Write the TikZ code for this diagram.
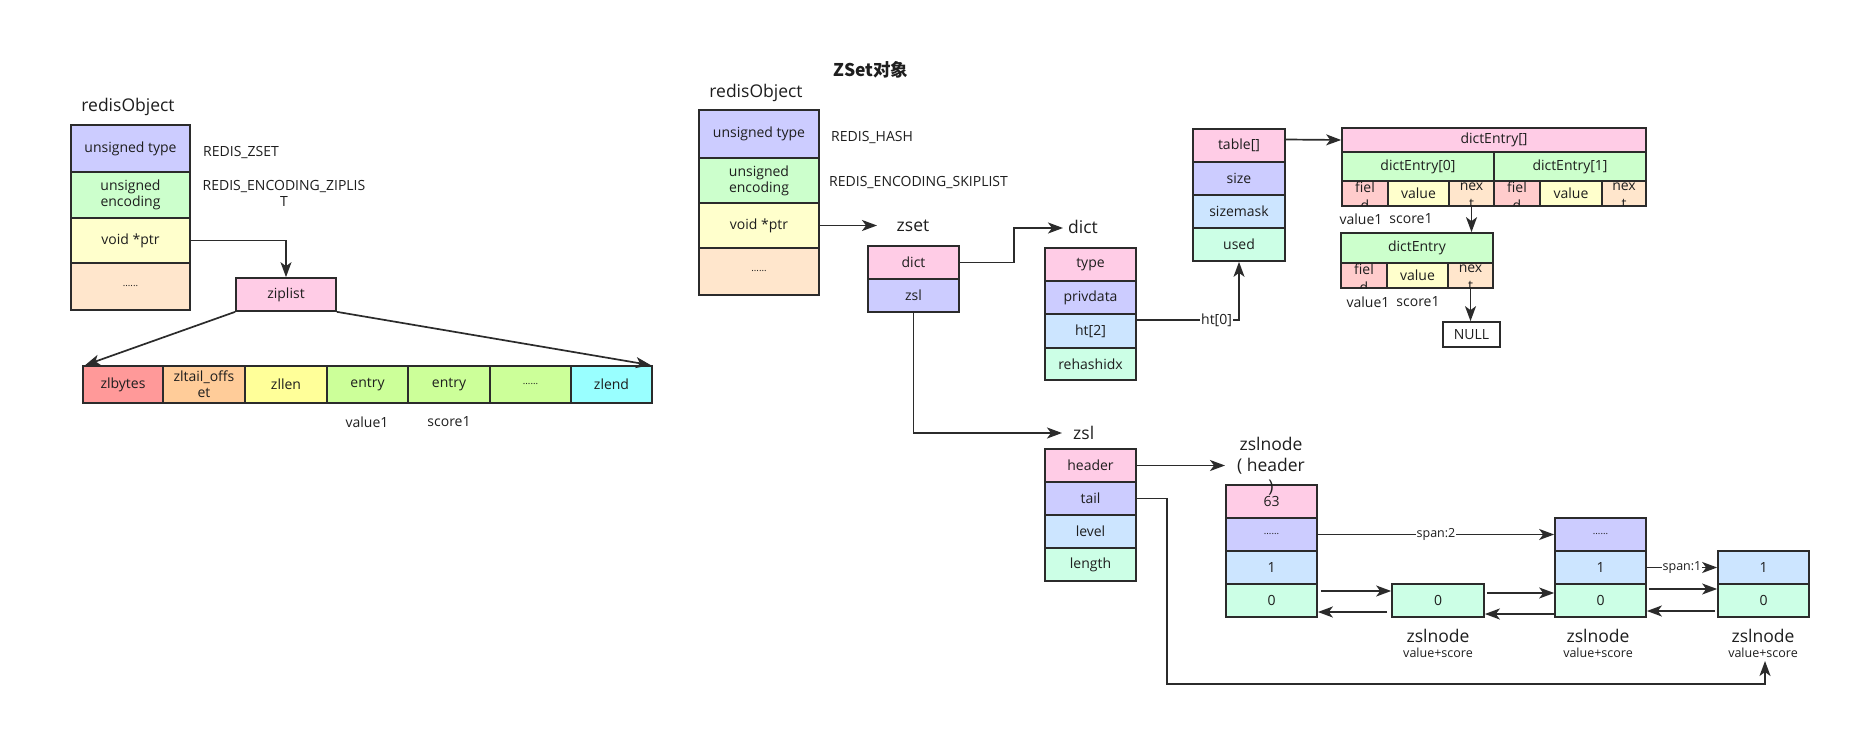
\documentclass[tikz,border=0pt]{standalone}
\usepackage{fontspec}
\setmainfont{Open Sans}
\newfontfamily\cjk{Noto Sans CJK SC}
\usetikzlibrary{arrows.meta,calc}
\definecolor{cPurple}{HTML}{CCCCFF}
\definecolor{cGreen}{HTML}{CCFFCC}
\definecolor{cYellow}{HTML}{FFFFCC}
\definecolor{cPeach}{HTML}{FFE6CC}
\definecolor{cPink}{HTML}{FFCCE6}
\definecolor{cBlue}{HTML}{CCE5FF}
\definecolor{cMint}{HTML}{CCFFE6}
\definecolor{cRose}{HTML}{FFCCCC}
\definecolor{cRed}{HTML}{FF9999}
\definecolor{cOrange}{HTML}{FFCC99}
\definecolor{cLemon}{HTML}{FFFF99}
\definecolor{cLime}{HTML}{CCFF99}
\definecolor{cCyan}{HTML}{99FFFF}
\definecolor{cLine}{HTML}{2B2B2B}
\definecolor{cText}{HTML}{1E1E1E}
\newcommand\sixdots{{\fontsize{9.5}{10}\selectfont ......}}
\newcommand\mkcell[7]{\node[cell,fill=#6,minimum width={(#4-#2)*1pt},minimum height={(#5-#3)*1pt}] (#1) at ({(#2+#4)/2},{(#3+#5)/2}) {#7};}
\newcommand\splitcell[8]{\mkcell{#1}{#2}{#3}{#4}{#5}{#6}{}%
  \begin{scope}\clip (#2,#3) rectangle (#4,#5);
  \node[celltext] at ({(#2+#4)/2},{(#3+#5)/2+2.5}) {#7\\#8};
  \end{scope}}
\begin{document}
\begin{tikzpicture}[x=1pt,y=-1pt,
  cell/.style={draw=cLine,line width=1.7pt,text=cText,font=\fontsize{14}{16}\selectfont,align=center,inner sep=0pt},
  celltext/.style={text=cText,font=\fontsize{14}{18}\selectfont,align=center,inner sep=0pt},
  arr/.style={draw=cLine,line width=1.7pt,-{Stealth[length=15pt,width=11pt,inset=4pt]}},
  ttl/.style={text=cText,inner sep=0pt,font=\fontsize{17.5}{21}\selectfont},
  note/.style={text=cText,inner sep=0pt,font=\fontsize{14}{16}\selectfont},
  small/.style={text=cText,inner sep=0pt,font=\fontsize{12.5}{14}\selectfont},
  onwhite/.style={fill=white,inner sep=1pt}
]
\useasboundingbox (0,0) rectangle (1871,746);
\fill[white] (0,0) rectangle (1871,746);
% ---------------- left: ziplist encoding
\node[ttl] (t1) at (128,107) {redisObject};
\mkcell{lt}{71}{125}{190}{172}{cPurple}{unsigned type}
\mkcell{le}{71}{172}{190}{218}{cGreen}{unsigned\\encoding}
\mkcell{lp}{71}{218}{190}{263}{cYellow}{void *ptr}
\mkcell{ld}{71}{263}{190}{310}{cPeach}{\sixdots}
\node[note,anchor=west] (n1) at (203,153) {REDIS\_ZSET};
\node[note,align=center] (n2) at (284,193) {REDIS\_ENCODING\_ZIPLIS\\T};
\mkcell{zl}{236}{278}{336}{311}{cPink}{ziplist}
\draw[arr] (lp.east) -| (zl.north);
\mkcell{z1}{83}{366}{163}{403}{cRed}{zlbytes}
\mkcell{z2}{163}{366}{245}{403}{cOrange}{zltail\_offs\\et}
\mkcell{z3}{245}{366}{327}{403}{cLemon}{zllen}
\mkcell{z4}{327}{366}{408}{403}{cLime}{entry}
\mkcell{z5}{408}{366}{490}{403}{cLime}{entry}
\mkcell{z6}{490}{366}{571}{403}{cLime}{\sixdots}
\mkcell{z7}{571}{366}{652}{403}{cCyan}{zlend}
\draw[arr] (zl.south west) -- ([xshift=3pt]z1.north west);
\draw[arr] (zl.south east) -- ([xshift=-2pt]z7.north east);
\node[note] (v1) at (367,422) {value1};
\node[note] (s1) at (449,422) {score1};
% ---------------- middle: skiplist encoding
\node[text=cText,inner sep=0pt,font={\cjk\bfseries\fontsize{17.5}{20}\selectfont}] (title) at (871,70) {ZSet对象};
\node[ttl] (t2) at (756,93) {redisObject};
\mkcell{mt}{699}{110}{819}{158}{cPurple}{unsigned type}
\mkcell{me}{699}{158}{819}{203}{cGreen}{unsigned\\encoding}
\mkcell{mp}{699}{203}{819}{248}{cYellow}{void *ptr}
\mkcell{md}{699}{248}{819}{295}{cPeach}{\sixdots}
\node[note,anchor=west] (n3) at (831,138) {REDIS\_HASH};
\node[note,anchor=west] (n4) at (829,183) {REDIS\_ENCODING\_SKIPLIST};
\node[ttl] (zsetl) at (913,226) {zset};
\coordinate (zsetin) at (877,225.5);
\draw[arr] (mp.east) -- (zsetin);
\mkcell{zd}{868}{246}{959}{279}{cPink}{dict}
\mkcell{zz}{868}{279}{959}{312}{cPurple}{zsl}
\node[ttl,anchor=west] (dictl) at (1068,227) {dict};
\coordinate (dictin) at (1063,228);
\draw[arr] (zd.east) -- ++(54,0) |- (dictin);
\mkcell{dt}{1045}{248}{1136}{281}{cPink}{type}
\mkcell{dp}{1045}{281}{1136}{314}{cPurple}{privdata}
\mkcell{dh}{1045}{314}{1136}{348}{cBlue}{ht[2]}
\mkcell{dr}{1045}{348}{1136}{380}{cMint}{rehashidx}
\node[ttl,anchor=west] (zsll) at (1073,433) {zsl};
\coordinate (zslin) at (1062,433);
\draw[arr] (zz.south) |- (zslin);
% hash table
\mkcell{tt}{1193}{129}{1285}{162}{cPink}{table[]}
\mkcell{ts}{1193}{162}{1285}{195}{cPurple}{size}
\mkcell{tm}{1193}{195}{1285}{228}{cBlue}{sizemask}
\mkcell{tu}{1193}{228}{1285}{261}{cMint}{used}
\draw[arr] ([yshift=11pt]dh.east) -| node[pos=0.39,note,onwhite]{ht[0]} (tu.south);
% dict entries
\mkcell{de}{1342}{128}{1646}{152}{cPink}{dictEntry[]}
\mkcell{d0}{1342}{152}{1494}{181}{cGreen}{dictEntry[0]}
\mkcell{d1}{1494}{152}{1646}{181}{cGreen}{dictEntry[1]}
\splitcell{f0}{1342}{181}{1388}{206}{cRose}{fiel}{d}
\mkcell{v0}{1388}{181}{1449}{206}{cYellow}{value}
\splitcell{x0}{1449}{181}{1494}{206}{cPeach}{nex}{t}
\splitcell{f1}{1494}{181}{1540}{206}{cRose}{fiel}{d}
\mkcell{v1b}{1540}{181}{1602}{206}{cYellow}{value}
\splitcell{x1}{1602}{181}{1646}{206}{cPeach}{nex}{t}
\draw[arr] ([yshift=6pt]tt.east) -- (de.west);
\node[note] (a1) at (1361,219) {value1};
\node[note] (a2) at (1411,219) {score1};
\mkcell{e}{1341}{233}{1493}{263}{cGreen}{dictEntry}
\splitcell{ef}{1341}{263}{1387}{288}{cRose}{fiel}{d}
\mkcell{ev}{1387}{263}{1448}{288}{cYellow}{value}
\splitcell{en}{1448}{263}{1493}{288}{cPeach}{nex}{t}
\node[note] (a3) at (1368,302) {value1};
\node[note] (a4) at (1418,302) {score1};
\draw[arr] (x0.south) -- (x0.south |- e.north);
\mkcell{nl}{1443}{322}{1500}{347}{white}{NULL}
\draw[arr] (en.south) -- (en.south |- nl.north);
% skiplist
\mkcell{sh}{1045}{449}{1136}{482}{cPink}{header}
\mkcell{st}{1045}{482}{1136}{515}{cPurple}{tail}
\mkcell{sl}{1045}{515}{1136}{548}{cBlue}{level}
\mkcell{sn}{1045}{548}{1136}{581}{cMint}{length}
\coordinate (hdrin) at (1225,465.5);
\draw[arr] (sh.east) -- (hdrin);
\mkcell{h1}{1226}{485}{1317}{518}{cPink}{63}
\mkcell{h2}{1226}{518}{1317}{551}{cPurple}{\sixdots}
\mkcell{h3}{1226}{551}{1317}{584}{cBlue}{1}
\mkcell{h4}{1226}{584}{1317}{617}{cMint}{0}
\node[ttl,align=center] (hl) at (1271,466) {zslnode\\( header\\)};
\mkcell{b1}{1555}{518}{1646}{551}{cPurple}{\sixdots}
\mkcell{b2}{1555}{551}{1646}{584}{cBlue}{1}
\mkcell{b3}{1555}{584}{1646}{617}{cMint}{0}
\mkcell{s0}{1392}{584}{1484}{617}{cMint}{0}
\mkcell{c1}{1718}{551}{1809}{584}{cBlue}{1}
\mkcell{c2}{1718}{584}{1809}{617}{cMint}{0}
\draw[arr] (h2.east) -- node[small,onwhite]{span:2} (b1.west);
\draw[arr] (b2.east) -- node[small,onwhite]{span:1} (c1.west);
\draw[arr] ([xshift=3pt,yshift=9.5pt]h4.east) -- ([yshift=9.5pt]s0.west);
\draw[arr] ([xshift=-4pt,yshift=-11.5pt]s0.west) -- ([yshift=-11.5pt]h4.east);
\draw[arr] ([xshift=2pt,yshift=7.5pt]s0.east) -- ([yshift=7.5pt]b3.west);
\draw[arr] ([yshift=-13.5pt]b3.west) -- ([yshift=-13.5pt]s0.east);
\draw[arr] ([xshift=2pt,yshift=11.5pt]b3.east) -- ([yshift=11.5pt]c2.west);
\draw[arr] ([xshift=-2pt,yshift=-10.5pt]c2.west) -- ([yshift=-10.5pt]b3.east);
\node[ttl] (k1) at (1438,636) {zslnode};
\node[small] (k1v) at (1438,653) {value+score};
\node[ttl] (k2) at (1598,636) {zslnode};
\node[small] (k2v) at (1598,653) {value+score};
\node[ttl] (k3) at (1763,636) {zslnode};
\node[small] (k3v) at (1763,653) {value+score};
\coordinate (tailend) at (1765,661);
\coordinate (tailbot) at (1765,684);
\draw[arr] (st.east) -- ++(30,0) |- (tailbot) -- (tailend);
\end{tikzpicture}
\end{document}
